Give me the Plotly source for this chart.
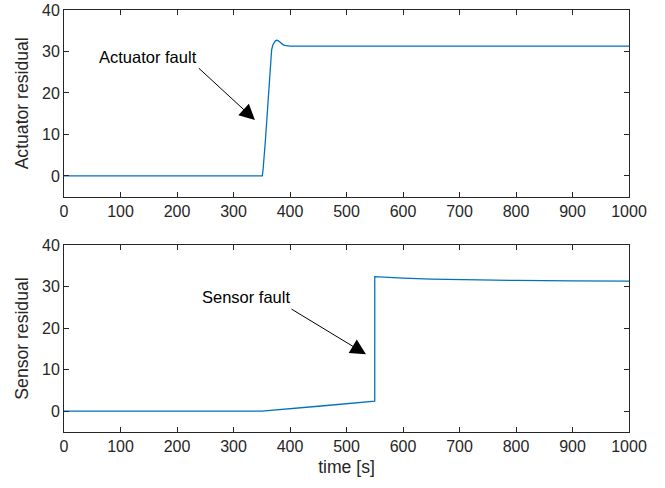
import plotly.graph_objects as go
from plotly.subplots import make_subplots

# Actuator residual (top)
act_t = [0, 351, 352.5, 354.4, 356.5, 358.5, 361.5, 364.5, 367.5, 369.5, 371.5, 374, 376.3,
         379, 382, 385, 388, 391, 394, 400, 500, 1000]
act_r = [0, 0, 1.8, 4.6, 8.6, 12.6, 19.1, 26.3, 30.4, 31.5, 32.2, 32.6, 32.7,
         32.6, 32.3, 31.9, 31.6, 31.45, 31.35, 31.3, 31.3, 31.3]

# Sensor residual (bottom)
sen_t = [0, 350, 450, 550, 550.01, 575, 600, 650, 700, 750, 800, 900, 1000]
sen_r = [0, 0, 1.2, 2.4, 32.4, 32.2, 32.05, 31.8, 31.65, 31.55, 31.47, 31.37, 31.3]

x_ticks = [0, 100, 200, 300, 400, 500, 600, 700, 800, 900, 1000]
y_ticks = [0, 10, 20, 30, 40]

LINE = "#0072BD"
AX = "#262626"
FONT = "Liberation Sans, Arial, Helvetica, sans-serif"

fig = make_subplots(rows=2, cols=1, vertical_spacing=0.1145)
fig.add_trace(go.Scatter(x=act_t, y=act_r, mode="lines",
                         line=dict(color=LINE, width=1.3),
                         showlegend=False), row=1, col=1)
fig.add_trace(go.Scatter(x=sen_t, y=sen_r, mode="lines",
                         line=dict(color=LINE, width=1.3),
                         showlegend=False), row=2, col=1)

axis_common = dict(showline=True, linecolor=AX, linewidth=1, mirror="ticks",
                   ticks="inside", ticklen=5, tickcolor=AX, tickwidth=1,
                   showgrid=False, zeroline=False, automargin=False,
                   tickfont=dict(family=FONT, size=16, color=AX))

for r in (1, 2):
    fig.update_xaxes(range=[0, 1000], tickvals=x_ticks, **axis_common, row=r, col=1)
    fig.update_yaxes(range=[-5, 40], tickvals=y_ticks, **axis_common, row=r, col=1)

fig.update_yaxes(title=dict(text="Actuator residual", font=dict(family=FONT, size=17.6, color=AX), standoff=8), row=1, col=1)
fig.update_yaxes(title=dict(text="Sensor residual", font=dict(family=FONT, size=17.6, color=AX), standoff=8), row=2, col=1)
fig.update_xaxes(title=dict(text="time [s]", font=dict(family=FONT, size=17.6, color=AX), standoff=6), row=2, col=1)

fig.update_layout(
    width=665, height=488,
    margin=dict(l=64, r=36, t=10, b=56),
    paper_bgcolor="white", plot_bgcolor="white",
    font=dict(family=FONT, size=16, color=AX),
)
fig.layout.yaxis.domain = [0.5576, 1.0]
fig.layout.yaxis2.domain = [0.0, 0.4431]

# Annotations: text labels
fig.add_annotation(x=149, y=28.7, xref="x", yref="y", text="Actuator fault", showarrow=False,
                   font=dict(family=FONT, size=16.5, color="black"))
fig.add_annotation(x=323, y=27.5, xref="x2", yref="y2", text="Sensor fault", showarrow=False,
                   font=dict(family=FONT, size=16.5, color="black"))
# Arrows
fig.add_annotation(x=338, y=13.5, xref="x", yref="y", ax=236, ay=26.3, axref="x", ayref="y",
                   text="", showarrow=True, arrowhead=2, arrowsize=3.1, arrowwidth=1, arrowcolor="black")
fig.add_annotation(x=534.5, y=13.7, xref="x2", yref="y2", ax=400, ay=24.8, axref="x2", ayref="y2",
                   text="", showarrow=True, arrowhead=2, arrowsize=3.1, arrowwidth=1, arrowcolor="black")

fig.write_html("out.html")
